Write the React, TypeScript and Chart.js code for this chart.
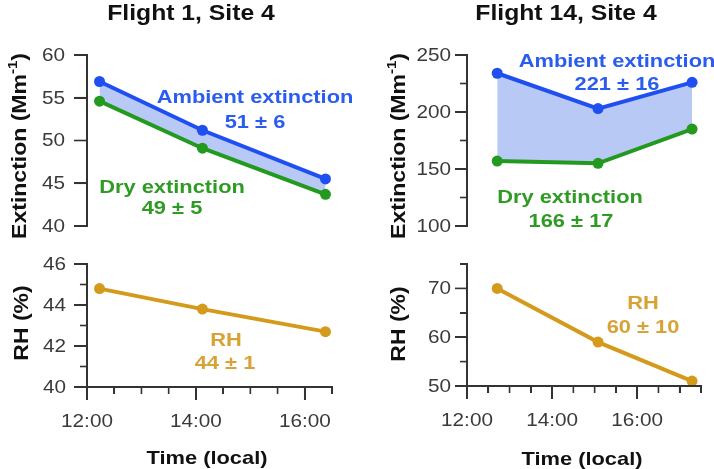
import React, { useEffect, useRef, useState } from "react";
import { Chart, registerables } from "chart.js";

Chart.register(...registerables);

// ---- Data -------------------------------------------------------------
// Local time as decimal hours.
const flight1Times = [12.23, 14.12, 16.38];
const flight1Ambient = [56.9, 51.2, 45.5]; // Mm^-1
const flight1Dry = [54.6, 49.1, 43.7]; // Mm^-1
const flight1RH = [44.8, 43.8, 42.7]; // %

const flight14Times = [12.71, 15.08, 17.29];
const flight14Ambient = [234, 203, 226];
const flight14Dry = [157, 155, 185];
const flight14RH = [70, 59, 51];

const timeTicks = [12, 14, 16];
const timeTickLabels = ["12:00", "14:00", "16:00"];

// ---- Styling ----------------------------------------------------------
const FONT = "'Liberation Sans', Arial, sans-serif";
const STRETCH = 1.15;
const AXIS = "#333333";
const AXIS_W = 1.6;
const TICK_TEXT = "#3a3a3a";
const TITLE = "#111111";
const BLUE = "#1f4ff0";
const BLUE_TEXT = "#2b5cf0";
const BLUE_FILL = "#b9c9f5";
const GREEN = "#23991f";
const GREEN_TEXT = "#2f9b24";
const GOLD = "#d49a1c";
const GOLD_TEXT = "#d9a237";

type Note = { text: string; x: number; y: number; color: string };
type TitlePart = { text: string; font: string; dy: number };
type Series = { times: number[]; values: number[]; color: string; fillToNext?: boolean };
type Rect = { x: number; y: number; w: number; h: number };

interface PanelSpec {
  box: { left: number; top: number; width: number; height: number };
  area: { left: number; right: number; top: number; bottom: number };
  x: { min: number; max: number; show: boolean };
  y: { min: number; max: number; minor: number; major: number; majorLen: number; minorLen: number; labelRight: number };
  series: Series[];
  title?: { text: string; x: number; y: number };
  yTitle: { x: number; y: number; parts: TitlePart[] };
  xTitle?: { x: number; y: number };
  notes: Note[];
}

const extinctionTitle: TitlePart[] = [
  { text: "Extinction (Mm", font: `bold 20px ${FONT}`, dy: 0 },
  { text: "-1", font: `bold 13px ${FONT}`, dy: -9 },
  { text: ")", font: `bold 20px ${FONT}`, dy: 0 },
];
const rhTitle: TitlePart[] = [{ text: "RH (%)", font: `bold 20px ${FONT}`, dy: 0 }];

const panels: PanelSpec[] = [
  {
    box: { left: 0, top: 0, width: 357, height: 250 },
    area: { left: 87, right: 332, top: 55, bottom: 238 },
    x: { min: 12, max: 16.5, show: false },
    y: { min: 40, max: 60, minor: 5, major: 5, majorLen: 13, minorLen: 13, labelRight: 65 },
    series: [
      { times: flight1Times, values: flight1Ambient, color: BLUE, fillToNext: true },
      { times: flight1Times, values: flight1Dry, color: GREEN },
    ],
    title: { text: "Flight 1, Site 4", x: 191, y: 20 },
    yTitle: { x: 26, y: 146, parts: extinctionTitle },
    notes: [
      { text: "Ambient extinction", x: 255, y: 103, color: BLUE_TEXT },
      { text: "51 ± 6", x: 255, y: 128, color: BLUE_TEXT },
      { text: "Dry extinction", x: 172, y: 193, color: GREEN_TEXT },
      { text: "49 ± 5", x: 172, y: 214, color: GREEN_TEXT },
    ],
  },
  {
    box: { left: 357, top: 0, width: 357, height: 250 },
    area: { left: 110, right: 344, top: 55, bottom: 238 },
    x: { min: 12, max: 17.5, show: false },
    y: { min: 100, max: 250, minor: 25, major: 50, majorLen: 12, minorLen: 7, labelRight: 94 },
    series: [
      { times: flight14Times, values: flight14Ambient, color: BLUE, fillToNext: true },
      { times: flight14Times, values: flight14Dry, color: GREEN },
    ],
    title: { text: "Flight 14, Site 4", x: 209, y: 20 },
    yTitle: { x: 48, y: 146, parts: extinctionTitle },
    notes: [
      { text: "Ambient extinction", x: 260, y: 67, color: BLUE_TEXT },
      { text: "221 ± 16", x: 260, y: 90, color: BLUE_TEXT },
      { text: "Dry extinction", x: 213, y: 203, color: GREEN_TEXT },
      { text: "166 ± 17", x: 214, y: 227, color: GREEN_TEXT },
    ],
  },
  {
    box: { left: 0, top: 250, width: 357, height: 219 },
    area: { left: 87, right: 332, top: 14, bottom: 137 },
    x: { min: 12, max: 16.5, show: true },
    y: { min: 40, max: 46, minor: 1, major: 2, majorLen: 13, minorLen: 7, labelRight: 66 },
    series: [{ times: flight1Times, values: flight1RH, color: GOLD }],
    yTitle: { x: 28, y: 73, parts: rhTitle },
    xTitle: { x: 207, y: 214 },
    notes: [
      { text: "RH", x: 226, y: 96, color: GOLD_TEXT },
      { text: "44 ± 1", x: 225, y: 119, color: GOLD_TEXT },
    ],
  },
  {
    box: { left: 357, top: 250, width: 357, height: 219 },
    area: { left: 110, right: 344, top: 14, bottom: 136 },
    x: { min: 12, max: 17.5, show: true },
    y: { min: 50, max: 75, minor: 5, major: 10, majorLen: 12, minorLen: 7, labelRight: 94 },
    series: [{ times: flight14Times, values: flight14RH, color: GOLD }],
    yTitle: { x: 48, y: 74, parts: rhTitle },
    xTitle: { x: 225, y: 215 },
    notes: [
      { text: "RH", x: 286, y: 59, color: GOLD_TEXT },
      { text: "60 ± 10", x: 286, y: 83, color: GOLD_TEXT },
    ],
  },
];

// ---- Drawing helpers --------------------------------------------------
function drawText(
  ctx: CanvasRenderingContext2D,
  text: string,
  x: number,
  y: number,
  font: string,
  color: string,
  align: CanvasTextAlign = "center",
  baseline: CanvasTextBaseline = "alphabetic"
) {
  ctx.save();
  ctx.translate(x, y);
  ctx.scale(STRETCH, 1);
  ctx.font = font;
  ctx.fillStyle = color;
  ctx.textAlign = align;
  ctx.textBaseline = baseline;
  ctx.fillText(text, 0, 0);
  ctx.restore();
}

function drawVerticalTitle(ctx: CanvasRenderingContext2D, parts: TitlePart[], x: number, y: number) {
  ctx.save();
  ctx.translate(x, y);
  ctx.rotate(-Math.PI / 2);
  ctx.scale(STRETCH, 1);
  ctx.fillStyle = TITLE;
  ctx.textAlign = "left";
  ctx.textBaseline = "alphabetic";
  let total = 0;
  for (const p of parts) {
    ctx.font = p.font;
    total += ctx.measureText(p.text).width;
  }
  let cx = -total / 2;
  for (const p of parts) {
    ctx.font = p.font;
    ctx.fillText(p.text, cx, p.dy);
    cx += ctx.measureText(p.text).width;
  }
  ctx.restore();
}

// Axis lines and tick marks, placed through the chart's scales.
function axisRects(chart: any, spec: PanelSpec): Rect[] {
  const xScale = chart.scales.x;
  const yScale = chart.scales.y;
  const area = chart.chartArea;
  const w = AXIS_W;
  const out: Rect[] = [];

  const yTop = yScale.getPixelForValue(spec.y.max);
  const yBottom = yScale.getPixelForValue(spec.y.min);
  out.push({ x: area.left - w / 2, y: yTop - w / 2, w, h: yBottom - yTop + w });
  const nY = Math.round((spec.y.max - spec.y.min) / spec.y.minor);
  const perMajor = Math.round(spec.y.major / spec.y.minor);
  for (let i = 0; i <= nY; i++) {
    const py = yScale.getPixelForValue(spec.y.min + i * spec.y.minor);
    const len = i % perMajor === 0 ? spec.y.majorLen : spec.y.minorLen;
    out.push({ x: area.left - len, y: py - w / 2, w: len, h: w });
  }

  if (spec.x.show) {
    const xLeft = xScale.getPixelForValue(spec.x.min);
    const xRight = xScale.getPixelForValue(spec.x.max);
    out.push({ x: xLeft - w / 2, y: area.bottom - w / 2, w: xRight - xLeft + w, h: w });
    const nX = Math.round((spec.x.max - spec.x.min) / 0.5);
    for (let i = 0; i <= nX; i++) {
      const px = xScale.getPixelForValue(spec.x.min + i * 0.5);
      const len = i % 4 === 0 ? 13 : 7;
      out.push({ x: px - w / 2, y: area.bottom, w, h: len });
    }
  }
  return out;
}

function drawAxes(chart: any, spec: PanelSpec) {
  const ctx: CanvasRenderingContext2D = chart.ctx;
  ctx.save();
  ctx.fillStyle = AXIS;
  for (const r of axisRects(chart, spec)) ctx.fillRect(r.x, r.y, r.w, r.h);
  ctx.restore();
}

function drawLabels(chart: any, spec: PanelSpec) {
  const ctx: CanvasRenderingContext2D = chart.ctx;
  const xScale = chart.scales.x;
  const yScale = chart.scales.y;
  const area = chart.chartArea;

  const nMajor = Math.round((spec.y.max - spec.y.min) / spec.y.major);
  for (let i = 0; i <= nMajor; i++) {
    const v = spec.y.min + i * spec.y.major;
    const py = yScale.getPixelForValue(v);
    drawText(ctx, String(v), spec.y.labelRight, py + 1, `18px ${FONT}`, TICK_TEXT, "right", "middle");
  }

  if (spec.x.show) {
    timeTicks.forEach((t, i) => {
      const px = xScale.getPixelForValue(t);
      drawText(ctx, timeTickLabels[i], px, area.bottom + 40, `18px ${FONT}`, TICK_TEXT);
    });
  }

  if (spec.title) {
    drawText(ctx, spec.title.text, spec.title.x, spec.title.y, `bold 21.5px ${FONT}`, TITLE);
  }
  drawVerticalTitle(ctx, spec.yTitle.parts, spec.yTitle.x, spec.yTitle.y);
  if (spec.xTitle) {
    drawText(ctx, "Time (local)", spec.xTitle.x, spec.xTitle.y, `bold 19px ${FONT}`, TITLE);
  }
  for (const n of spec.notes) {
    drawText(ctx, n.text, n.x, n.y, `bold 19px ${FONT}`, n.color);
  }
}

function buildConfig(spec: PanelSpec): any {
  const { box, area } = spec;
  const datasets = spec.series.map((s, i) => ({
    data: s.times.map((t, j) => ({ x: t, y: s.values[j] })),
    borderColor: s.color,
    backgroundColor: s.fillToNext ? BLUE_FILL : s.color,
    pointBackgroundColor: s.color,
    pointBorderColor: s.color,
    pointBorderWidth: 0,
    pointRadius: 5.5,
    borderWidth: 4,
    tension: 0,
    clip: false,
    fill: s.fillToNext ? i + 1 : false,
  }));
  return {
    type: "line",
    data: { datasets },
    options: {
      animation: false,
      responsive: false,
      devicePixelRatio: 1,
      events: [],
      layout: {
        padding: {
          left: 0,
          top: area.top,
          right: box.width - area.right,
          bottom: spec.x.show ? 0 : box.height - area.bottom,
        },
      },
      plugins: {
        legend: { display: false },
        tooltip: { enabled: false },
        title: { display: false },
        filler: { drawTime: "beforeDatasetsDraw" },
      },
      scales: {
        x: {
          type: "linear",
          position: "bottom",
          display: spec.x.show,
          min: spec.x.min,
          max: spec.x.max,
          ticks: { display: false, stepSize: 0.5 },
          grid: { display: false },
          border: { display: false },
          afterFit: (s: any) => {
            s.height = box.height - area.bottom;
          },
        },
        y: {
          type: "linear",
          position: "left",
          min: spec.y.min,
          max: spec.y.max,
          ticks: { display: false, stepSize: spec.y.minor },
          grid: { display: false },
          border: { display: false },
          afterFit: (s: any) => {
            s.width = area.left;
          },
        },
      },
    },
    plugins: [
      {
        id: "panelDecor",
        afterDraw(chart: any) {
          drawAxes(chart, spec);
          drawLabels(chart, spec);
        },
      },
    ],
  };
}

function Panel({ spec }: { spec: PanelSpec }) {
  const ref = useRef<HTMLCanvasElement>(null);
  const [rules, setRules] = useState<Rect[]>([]);
  useEffect(() => {
    const canvas = ref.current;
    if (!canvas) return;
    const chart = new Chart(canvas, buildConfig(spec));
    // Mirror the axis rules as DOM strokes so they stay crisp above the canvas.
    setRules(axisRects(chart, spec));
    return () => chart.destroy();
  }, []);
  const { box } = spec;
  return (
    <>
      <canvas
        ref={ref}
        width={box.width}
        height={box.height}
        style={{
          position: "absolute",
          left: box.left,
          top: box.top,
          width: box.width,
          height: box.height,
        }}
      />
      <div
        style={{
          position: "absolute",
          left: box.left,
          top: box.top,
          width: box.width,
          height: box.height,
          pointerEvents: "none",
        }}
      >
        {rules.map((r, i) => (
          <div
            key={i}
            style={{
              position: "absolute",
              left: r.x,
              top: r.y,
              width: r.w,
              height: r.h,
              background: AXIS,
            }}
          />
        ))}
      </div>
    </>
  );
}

export default function App() {
  return (
    <div
      style={{
        position: "fixed",
        left: 0,
        top: 0,
        width: 714,
        height: 469,
        background: "#ffffff",
        overflow: "hidden",
      }}
    >
      {panels.map((p, i) => (
        <Panel key={i} spec={p} />
      ))}
    </div>
  );
}
